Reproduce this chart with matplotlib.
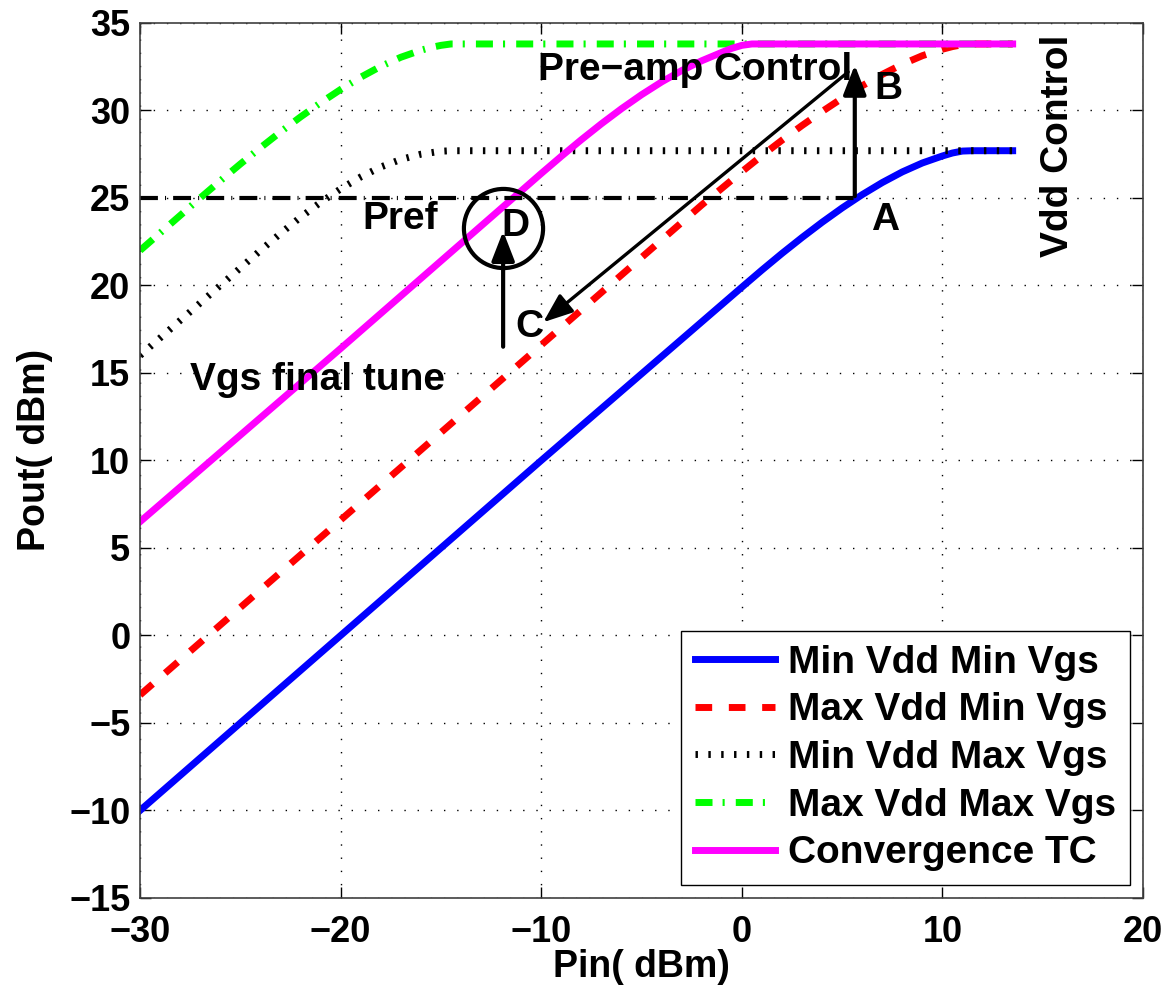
import matplotlib.pyplot as plt

plt.rcParams['font.family'] = ['Liberation Sans', 'DejaVu Sans']
plt.rcParams['font.weight'] = 'bold'

# Pin (dBm) / Pout (dBm)
pin_blue = [-30, -20, -10, 0, 1, 2, 3, 4, 5, 6, 7, 8, 9, 10, 10.5, 11, 11.5, 13.5]
pout_blue = [-10, 0, 10, 19.9, 20.88, 21.83, 22.74, 23.61, 24.43, 25.19, 25.88,
             26.49, 27.0, 27.4, 27.57, 27.68, 27.7, 27.7]

pin_red = [-30, -20, -10, -2, 0, 1, 2, 3, 4, 5, 6, 7, 8, 9, 10, 10.5, 11, 11.5, 13.5]
pout_red = [-3.4, 6.6, 16.6, 24.6, 26.5, 27.42, 28.3, 29.14, 29.94, 30.7, 31.41,
            32.06, 32.64, 33.13, 33.5, 33.65, 33.76, 33.8, 33.8]

pin_dot = [-30, -24, -23, -22, -21, -20, -19, -18, -17, -16, -15, -14.5, 13.5]
pout_dot = [16.0, 22.0, 22.97, 23.9, 24.75, 25.52, 26.2, 26.77, 27.2, 27.5, 27.67, 27.7, 27.7]

pin_grn = [-30, -28, -27, -26, -25, -24, -23, -22, -21, -20, -19, -18, -17, -16,
           -15.5, -15, -14.5, 13.5]
pout_grn = [22.0, 24.0, 25.0, 25.98, 26.94, 27.87, 28.77, 29.63, 30.44, 31.2, 31.9,
            32.52, 33.04, 33.44, 33.6, 33.72, 33.8, 33.8]

pin_tc = [-30, -20, -10, -9, -8, -7, -6, -5, -4, -3, -2, -1, -0.5, 0, 0.5, 13.5]
pout_tc = [6.5, 16.4, 26.4, 27.38, 28.33, 29.24, 30.1, 30.9, 31.63, 32.28, 32.84,
           33.32, 33.55, 33.72, 33.8, 33.8]

labels = ['Min Vdd Min Vgs', 'Max Vdd Min Vgs', 'Min Vdd Max Vgs',
          'Max Vdd Max Vgs', 'Convergence TC']

pref = 25
xticks = [-30, -20, -10, 0, 10, 20]
yticks = [-15, -10, -5, 0, 5, 10, 15, 20, 25, 30, 35]

fig = plt.figure(figsize=(11.69, 9.94), dpi=100)
ax = fig.add_axes([0.1198, 0.0966, 0.858, 0.8803])

ax.plot(pin_blue, pout_blue, color='#0000ff', lw=5, label=labels[0])
ax.plot(pin_red, pout_red, color='#ff0000', lw=5, ls=(0, (2.4, 2.4)), label=labels[1])
ax.plot(pin_dot, pout_dot, color='k', lw=5, ls=(0, (0.35, 1.5)), label=labels[2])
ax.plot(pin_grn, pout_grn, color='#00ff00', lw=5, ls=(0, (2.45, 1.45, 0.3, 1.6)), label=labels[3])
ax.plot(pin_tc, pout_tc, color='#ff00ff', lw=5, label=labels[4])

# Pref line
ax.plot([-30, 5.6], [pref, pref], color='k', lw=3, ls=(0, (4.3, 1.7, 0.25, 1.7)))

# arrows
akw = dict(arrowstyle='-|>,head_length=0.9,head_width=0.35', color='k', lw=3,
           mutation_scale=20, shrinkA=0, shrinkB=0)
ax.annotate('', xy=(5.63, 32.6), xytext=(5.63, 25.1), arrowprops=akw)
ax.annotate('', xy=(-9.9, 17.9), xytext=(5.3, 32.2), arrowprops=dict(akw, lw=2.4))
ax.annotate('', xy=(-11.9, 23.1), xytext=(-11.9, 16.5), arrowprops=akw)
ax.plot([-11.9], [23.3], 'o', ms=57, mfc='none', mec='k', mew=3)

fs = 28
ax.text(-10.17, 32.3, 'Pre\u2212amp Control', fontsize=fs, ha='left', va='center')
ax.text(7.3, 31.2, 'B', fontsize=fs, ha='center', va='center')
ax.text(7.12, 23.75, 'A', fontsize=fs, ha='center', va='center')
ax.text(-18.94, 23.8, 'Pref', fontsize=fs, ha='left', va='center')
ax.text(-11.3, 23.4, 'D', fontsize=fs, ha='center', va='center')
ax.text(-10.57, 17.6, 'C', fontsize=fs, ha='center', va='center')
ax.text(-27.5, 14.6, 'Vgs final tune', fontsize=fs, ha='left', va='center')
ax.text(15.74, 28.0, 'Vdd Control', fontsize=fs, ha='center', va='center', rotation=90)

ax.set_xlim(-30, 20)
ax.set_ylim(-15, 35)
ax.set_xticks(xticks)
ax.set_yticks(yticks)
ax.grid(True, color='k', ls=(0, (1, 8.5)), lw=1)
ax.tick_params(direction='in', length=8, width=1, top=True, right=True, labelsize=26)
ax.tick_params(axis='x', pad=12)
ax.tick_params(axis='y', pad=7)
for s in ax.spines.values():
    s.set_color('#404040')
    s.set_linewidth(1.2)

ax.set_xlabel('Pin( dBm)', fontsize=27, fontweight='bold')
ax.set_ylabel('Pout( dBm)', fontsize=27, fontweight='bold')
ax.xaxis.set_label_coords(0.5, -0.058)
ax.yaxis.set_label_coords(-0.087, 0.512)

leg = ax.legend(loc='lower right', bbox_to_anchor=(0.987, 0.015), borderaxespad=0,
                fontsize=28, handlelength=2.05, handletextpad=0.35, labelspacing=0.3,
                borderpad=0.35, fancybox=False, framealpha=1, edgecolor='k')
leg.get_frame().set_linewidth(1.0)

plt.savefig('out.png', dpi=100)
plt.close()
